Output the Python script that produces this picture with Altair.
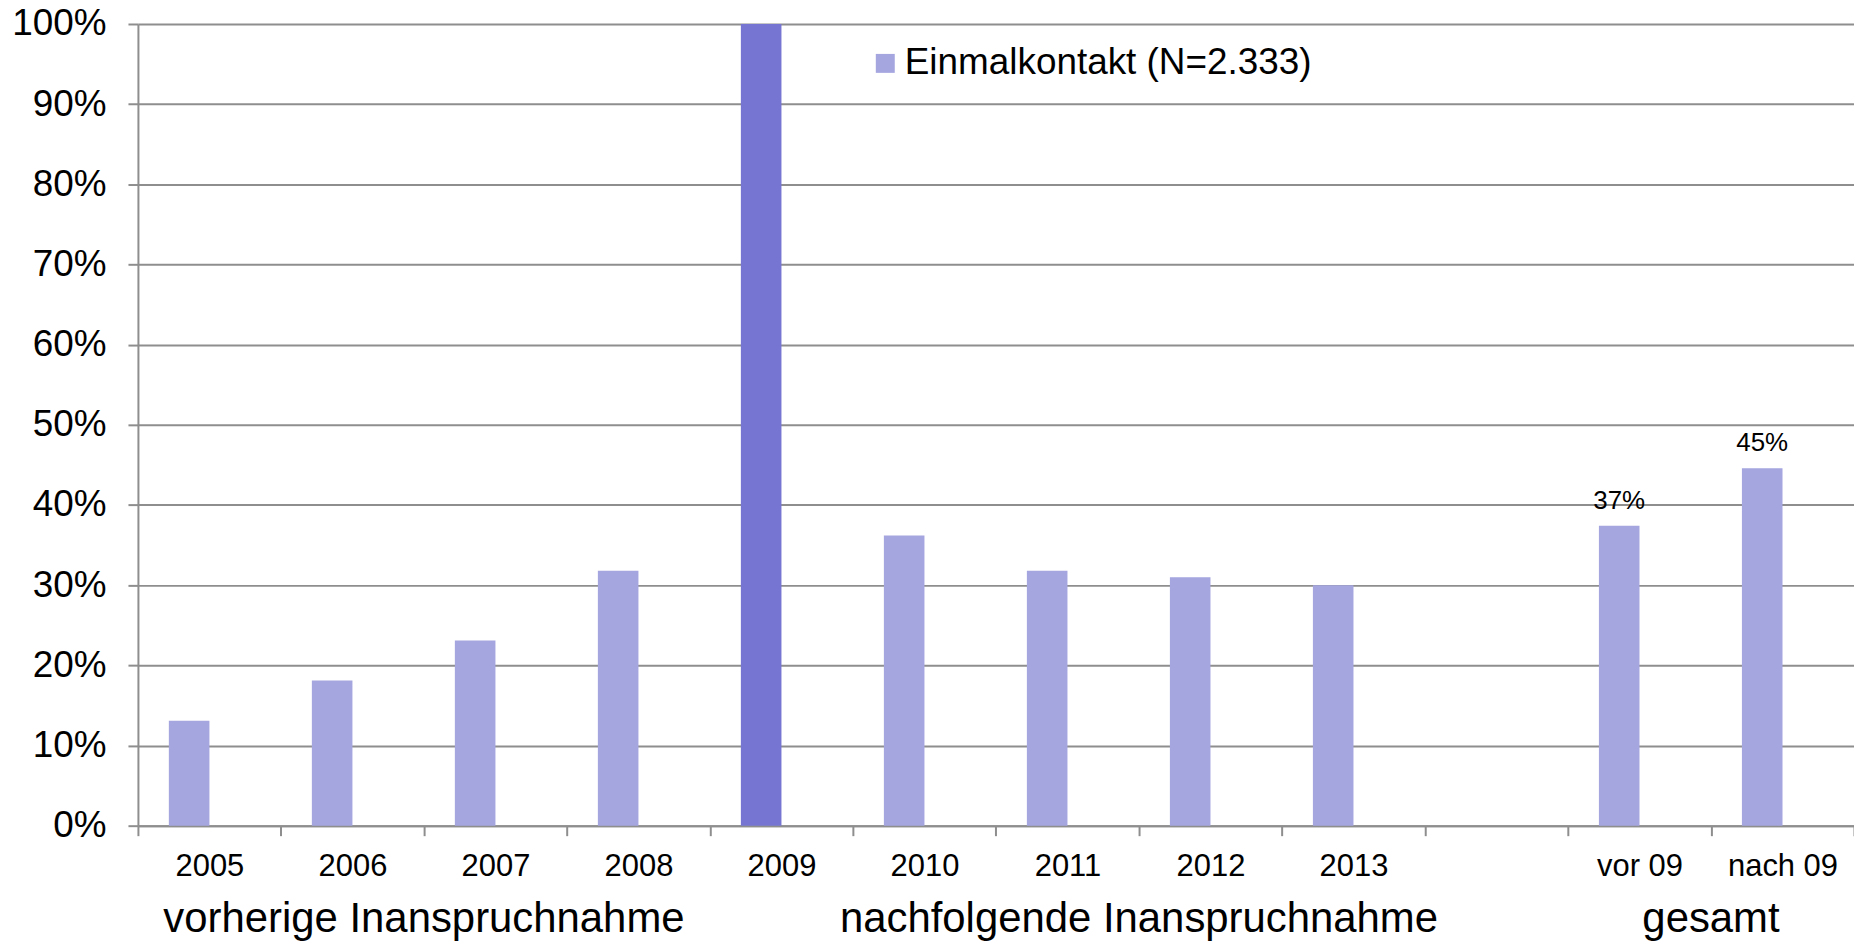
import altair as alt
import pandas as pd

# ---- data ----
categories = ["2005", "2006", "2007", "2008", "2009", "2010", "2011", "2012", "2013", " ", "vor 09", "nach 09"]
bar_categories = ["2005", "2006", "2007", "2008", "2009", "2010", "2011", "2012", "2013", "vor 09", "nach 09"]
bar_values = [0.131, 0.181, 0.231, 0.318, 1.0, 0.362, 0.318, 0.310, 0.300, 0.374, 0.446]
series_name = "Einmalkontakt (N=2.333)"
highlight_name = "2009 (Bezugsjahr)"
bar_series = [highlight_name if c == "2009" else series_name for c in bar_categories]
labelled_categories = ["vor 09", "nach 09"]
group_titles = ["vorherige Inanspruchnahme", "nachfolgende Inanspruchnahme", "gesamt"]
group_anchor = ["2006", "2011", "vor 09"]  # group centred on the right edge of this band
y_tick_values = [0, 0.1, 0.2, 0.3, 0.4, 0.5, 0.6, 0.7, 0.8, 0.9, 1.0]
series_colors = ["#A5A5E0", "#7676D2"]

bars_df = pd.DataFrame({"cat": bar_categories, "value": bar_values, "series": bar_series})
groups_df = pd.DataFrame({"cat": group_anchor, "title": group_titles})

FONT = "Liberation Sans"
GRID = "#8E8E8E"
W, H = 1721, 804

x_enc = alt.X(
    "cat:N",
    scale=alt.Scale(domain=categories, paddingInner=0, paddingOuter=0),
    sort=categories,
    axis=alt.Axis(
        title=None, labelAngle=0, tickBand="extent", ticks=True, tickSize=10,
        tickColor=GRID, tickWidth=2, domainColor=GRID, domainWidth=2,
        labelFontSize=31, labelColor="black", labelBaseline="alphabetic",
        labelPadding=40, labelOverlap=False, labelFlush=False, grid=False,
    ),
)

y_enc = alt.Y(
    "value:Q",
    scale=alt.Scale(domain=[0, 1], nice=False),
    axis=alt.Axis(
        title=None, values=y_tick_values, format=".0%", labelFontSize=37,
        labelColor="black", tickSize=10, tickColor=GRID, tickWidth=2,
        domainColor=GRID, domainWidth=2, grid=True, gridColor=GRID,
        gridWidth=2, labelPadding=22,
    ),
)

bars = alt.Chart(bars_df).mark_bar(width=40.7, xOffset=-20.35).encode(
    x=x_enc,
    y=y_enc,
    color=alt.Color(
        "series:N",
        scale=alt.Scale(domain=[series_name, highlight_name], range=series_colors),
        legend=alt.Legend(
            title=None, values=[series_name], orient="none", legendX=731,
            legendY=21, symbolType="square", symbolSize=361, symbolStrokeWidth=0,
            symbolOpacity=1, labelFontSize=37, labelColor="black", labelOffset=1,
            padding=0, labelLimit=600,
        ),
    ),
)

labels = alt.Chart(bars_df).transform_filter(
    alt.FieldOneOfPredicate(field="cat", oneOf=labelled_categories)
).mark_text(fontSize=26, baseline="alphabetic", dy=-16.7, xOffset=-20.35, color="black").encode(
    x=alt.X("cat:N", scale=alt.Scale(domain=categories), sort=categories),
    y=alt.Y("value:Q"),
    text=alt.Text("value:Q", format=".0%"),
)

groups = alt.Chart(groups_df).mark_text(fontSize=42, baseline="alphabetic", color="black").encode(
    x=alt.X("cat:N", scale=alt.Scale(domain=categories), sort=categories, bandPosition=1),
    y=alt.value(H + 107),
    text="title:N",
)

chart = alt.layer(bars, labels, groups).properties(
    width=W, height=H,
    autosize=alt.AutoSizeParams(type="none"),
    padding={"left": 130.3, "top": 14.7, "right": 0, "bottom": 116},
).configure(font=FONT).configure_view(strokeWidth=0)

chart.save("out.html", embed_options={"renderer": "svg", "actions": False})
